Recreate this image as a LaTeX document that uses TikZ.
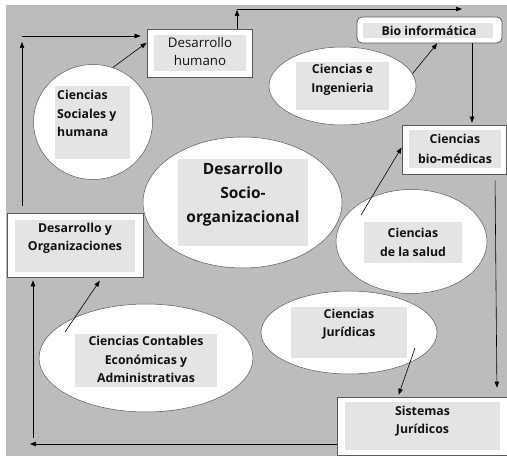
\documentclass[tikz,border=0pt]{standalone}
\usepackage{fontspec}
\setmainfont{Open Sans}
\usepackage{tikz}
\usetikzlibrary{arrows.meta, shapes.geometric}
\definecolor{mapGray}{HTML}{BCBCBC}
\definecolor{mapLight}{HTML}{E4E4E4}
\definecolor{mapLine}{HTML}{5A5A5A}
\definecolor{mapInk}{HTML}{111111}

\begin{document}
\begin{tikzpicture}[
  x=1pt, y=-1pt,
  every node/.style={text=mapInk},
  area/.style={ellipse, draw=mapLine, line width=0.5pt, fill=white, inner sep=0pt},
  unit/.style={rectangle, draw=mapLine, line width=0.8pt, fill=white, inner sep=0pt},
  tag/.style={rectangle, fill=mapLight, inner sep=0pt},
  lbl/.style={align=center, inner sep=0pt, font=\fontsize{12.3}{18.5}\selectfont\bfseries},
  biglbl/.style={align=center, inner sep=0pt, font=\fontsize{15.5}{24}\selectfont\bfseries},
  flow/.style={-{Triangle[length=6pt, width=4.5pt]}, line width=0.6pt, black},
]
\useasboundingbox (0,0) rectangle (507,457);
\fill[mapGray] (6,5) rectangle (507,456);

% Boxes
\node[unit, minimum width=105pt, minimum height=48pt] (dhum) at (199.5,53) {};
\node[tag, minimum width=92pt, minimum height=36pt] (dhum-tag) at (200,53) {};
\node[lbl, font=\fontsize{13.3}{18}\selectfont] (dhum-lbl) at (200,52) {Desarrollo\\humano};

\node[unit, rounded corners=5pt, minimum width=145pt, minimum height=26pt] (bioinf) at (429.5,30) {};
\node[tag, minimum width=130pt, minimum height=15pt] (bioinf-tag) at (428,30.5) {};
\node[lbl] (bioinf-lbl) at (429,30.5) {Bio informática};

\node[unit, minimum width=104pt, minimum height=49pt] (biomed) at (454,149.5) {};
\node[tag, minimum width=92pt, minimum height=38pt] (biomed-tag) at (455,149) {};
\node[lbl, font=\fontsize{12.3}{20}\selectfont\bfseries] (biomed-lbl) at (455,149) {Ciencias\\bio-médicas};

\node[unit, minimum width=170pt, minimum height=58pt] (sisjur) at (422,426) {};
\node[tag, minimum width=155pt, minimum height=48pt] (sisjur-tag) at (422.5,426) {};
\node[lbl] (sisjur-lbl) at (422.5,421) {Sistemas\\Jurídicos};

\node[unit, minimum width=136pt, minimum height=64pt] (dyo) at (75,245) {};
\node[tag, minimum width=120pt, minimum height=52pt] (dyo-tag) at (75,246) {};
\node[lbl] (dyo-lbl) at (75,238.5) {Desarrollo y\\Organizaciones};

% Areas
\node[area, minimum width=119pt, minimum height=115pt] (soc) at (93,122) {};
\node[tag, minimum width=75pt, minimum height=73pt] (soc-tag) at (92.5,122.5) {};
\node[lbl, align=left, anchor=west] (soc-lbl) at (57,113.5) {Ciencias\\Sociales y\\humana};

\node[area, minimum width=147pt, minimum height=78pt] (ing) at (342.5,86) {};
\node[tag, minimum width=93pt, minimum height=48pt] (ing-tag) at (342.5,86) {};
\node[lbl] (ing-lbl) at (342.5,80) {Ciencias e\\Ingenieria};

\node[area, minimum width=199pt, minimum height=131pt] (dso) at (242.5,202.5) {};
\node[tag, minimum width=130pt, minimum height=87pt] (dso-tag) at (243,202.5) {};
\node[biglbl] (dso-lbl) at (243,194) {Desarrollo\\Socio-\\organizacional};

\node[area, minimum width=151pt, minimum height=104pt] (sal) at (411.5,241.5) {};
\node[tag, minimum width=98pt, minimum height=41pt] (sal-tag) at (413,242.5) {};
\node[lbl] (sal-lbl) at (413,242.5) {Ciencias\\de la salud};

\node[area, minimum width=176pt, minimum height=83pt] (jur) at (349,332.5) {};
\node[tag, minimum width=116pt, minimum height=51pt] (jur-tag) at (349,332.5) {};
\node[lbl] (jur-lbl) at (349,324) {Ciencias\\Jurídicas};

\node[area, minimum width=214pt, minimum height=108pt] (cont) at (146,358) {};
\node[tag, minimum width=142pt, minimum height=53pt] (cont-tag) at (146,360.5) {};
\node[lbl] (cont-lbl) at (146,359.5) {Ciencias Contables\\Económicas y\\Administrativas};

% Free ends
\coordinate (c-tl) at (22,36);
\coordinate (c-tt) at (237,9);
\coordinate (c-tr) at (462,9);
\coordinate (c-bl) at (30,444);
\coordinate (c-lb) at (33,438);

% Connectors
\draw[flow, shorten <=7pt, shorten >=6pt] ([xshift=-53pt]dyo.north) -- (c-tl);
\draw[flow, shorten >=6pt] (c-tl) -- (c-tl -| dhum.west);
\draw[flow] (soc.70) -- (dhum.169);
\draw[flow, shorten >=1pt] ([xshift=37.5pt]dhum.north) -- (c-tt);
\draw[flow] (c-tt) -- (c-tr);
\draw[flow] (ing.10) -- (bioinf.-60);
\draw[flow, shorten >=2pt] ([xshift=42.5pt]bioinf.south) -- ([xshift=42.5pt]bioinf.south |- biomed.north);
\draw[flow] ([shift={(-50.5pt,26.5pt)}]sal.center) -- ([yshift=2pt]biomed.west);
\draw[flow, shorten <=6pt, shorten >=9pt] ([xshift=41pt]biomed.south) -- ([xshift=75pt]sisjur.north);
\draw[flow, shorten >=2pt] ([shift={(66pt,-15.5pt)}]jur.center) -- ([xshift=-24pt]sisjur.north);
\draw[flow] ([yshift=-18pt]sisjur.west) -- (c-bl);
\draw[flow, shorten >=3pt] (c-lb) -- ([xshift=-42pt]dyo.south);
\draw[flow, shorten >=4pt] ([shift={(-81pt,26pt)}]cont.center) -- ([xshift=27pt]dyo.south);

\end{tikzpicture}
\end{document}
